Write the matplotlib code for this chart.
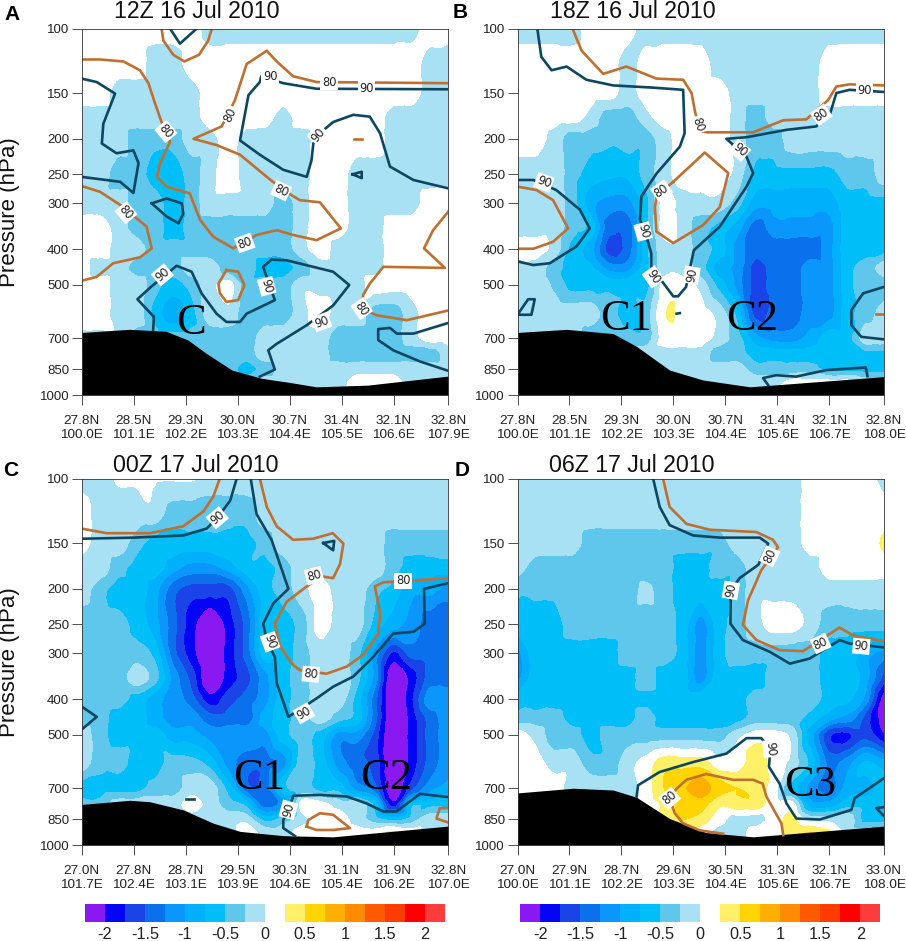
import numpy as np
import matplotlib
matplotlib.use("Agg")
import matplotlib.pyplot as plt
import matplotlib.tri as mtri

plt.rcParams['font.family'] = ['Liberation Sans', 'DejaVu Sans']

# ---------- coordinates ----------
PRESSURE = [100, 125, 150, 175, 200, 250, 300, 350, 400, 450, 500, 600, 700, 775, 850, 925, 1000]
SECTION = list(range(0, 101, 5))          # distance along the section, percent
YTICKS = [100, 150, 200, 250, 300, 400, 500, 700, 850, 1000]
XTICK_POS = [0, 14.18, 28.36, 42.55, 56.73, 70.9, 85.09, 100]

# ---------- tick labels ----------
A_TICKS = ["27.8N\n100.0E", "28.5N\n101.1E", "29.3N\n102.2E", "30.0N\n103.3E", "30.7N\n104.4E", "31.4N\n105.5E", "32.1N\n106.6E", "32.8N\n107.9E"]
B_TICKS = ["27.8N\n100.0E", "28.5N\n101.1E", "29.3N\n102.2E", "30.0N\n103.3E", "30.7N\n104.4E", "31.4N\n105.6E", "32.1N\n106.7E", "32.8N\n108.0E"]
C_TICKS = ["27.0N\n101.7E", "27.8N\n102.4E", "28.7N\n103.1E", "29.5N\n103.9E", "30.3N\n104.6E", "31.1N\n105.4E", "31.9N\n106.2E", "32.8N\n107.0E"]
D_TICKS = ["27.0N\n100.0E", "27.9N\n101.1E", "28.7N\n102.2E", "29.6N\n103.3E", "30.5N\n104.4E", "31.3N\n105.6E", "32.1N\n106.7E", "33.0N\n108.0E"]

# ---------- shaded field, one row per pressure level ----------
A_FIELD = [
 [.1,.1,.1,.1,.1,.1,.1,-.1,-.1,-.1,-.1,-.1,-.1,-.1,-.1,-.1,-.1,-.1,-.1,.1,.1],
 [.1,.1,.1,.1,-.1,-.1,.1,.1,.1,.1,.1,.1,.1,.1,.1,.1,.1,.1,.1,-.1,-.1],
 [.1,.1,-.1,-.1,-.1,-.1,-.1,.1,.1,.1,.1,.1,.1,.1,.1,.1,.1,.1,.1,-.1,-.1],
 [-.1,-.1,-.1,-.1,-.1,-.1,-.1,.1,.1,.1,.1,-.1,.1,.1,.1,.1,.1,-.1,-.1,-.1,-.1],
 [-.1,-.1,-.1,-.4,-.4,-.4,-.1,-.1,.1,-.1,-.1,-.1,-.1,.1,.1,.1,.1,-.1,-.1,-.1,-.1],
 [-.1,-.1,-.4,-.4,-.6,-.6,-.4,-.1,.1,-.1,-.1,-.1,-.1,.1,.1,-.1,-.1,-.1,-.1,-.1,-.1],
 [-.1,-.1,-.1,-.4,-.4,-.6,-.4,-.1,-.1,-.1,-.1,-.4,-.1,.1,.1,-.1,-.1,-.1,-.1,.1,.1],
 [.1,.1,-.1,-.4,-.4,-.6,-.4,-.4,-.4,-.4,-.4,-.4,-.1,.1,.1,-.1,-.1,.1,.1,.1,.1],
 [.1,.1,-.1,-.1,-.4,-.4,-.4,-.4,-.4,-.4,-.4,-.4,-.1,.1,-.1,-.1,-.1,.1,.1,.1,.1],
 [.1,-.1,-.1,-.4,-.4,-.4,-.1,-.1,-.4,-.4,-.6,-.6,-.4,-.1,-.1,-.1,-.1,.1,.1,.1,.1],
 [.1,.1,-.1,-.1,-.4,-.6,-.4,-.1,.1,-.4,-.4,-.4,-.1,-.1,-.1,-.1,.1,.1,.1,.1,.1],
 [.1,.1,-.1,-.1,-.6,-.9,-.6,-.1,-.1,-.4,-.4,-.4,-.1,.1,-.1,-.1,-.4,-.4,-.1,.1,.1],
 [-.1,-.1,-.1,-.4,-.4,-.4,-.4,-.4,-.4,-.4,-.1,-.1,-.1,-.1,-.4,-.4,-.4,-.4,-.1,.1,.1],
 [-.4,-.4,-.4,-.4,-.4,-.4,-.4,-.4,-.4,-.4,-.1,-.1,-.1,-.1,-.4,-.4,-.4,-.4,-.4,-.4,-.1],
 [-.4,-.4,-.4,-.4,-.4,-.4,-.4,-.4,-.4,-.6,-.4,-.1,-.1,-.1,-.1,-.1,-.1,-.1,-.1,-.1,-.1],
 [-.4,-.4,-.4,-.4,-.4,-.4,-.4,-.4,-.4,-.4,-.1,-.1,-.1,-.1,-.1,.1,.1,.1,-.1,-.1,-.1],
 [-.4,-.4,-.4,-.4,-.4,-.4,-.4,-.4,-.4,-.4,-.1,-.1,-.1,-.1,-.1,.1,.1,.1,-.1,-.1,-.1],
]
B_FIELD = [
 [-.1,-.1,-.1,-.1,.1,.1,.1,-.1,-.1,-.1,-.1,-.1,-.1,-.1,-.1,-.1,-.1,-.1,-.1,-.1,-.1],
 [.1,.1,.1,.1,.1,.1,-.1,.1,.1,.1,.1,-.1,-.1,-.1,-.1,-.1,-.1,.1,.1,.1,.1],
 [.1,.1,.1,.1,.1,.1,-.1,.1,.1,.1,.1,.1,-.1,-.1,-.1,-.1,-.1,.1,.1,.1,.1],
 [.1,.1,.1,.1,-.1,-.4,-.4,-.1,.1,.1,.1,.1,-.1,-.4,-.1,-.1,-.1,-.1,-.1,-.1,-.1],
 [.1,.1,-.1,-.4,-.4,-.45,-.4,-.4,-.1,.1,.1,.1,-.1,-.4,-.4,-.1,-.1,-.1,-.1,-.1,-.1],
 [-.1,-.1,-.1,-.4,-.6,-.7,-.7,-.4,-.1,.1,.1,.1,-.1,-.6,-.6,-.6,-.6,-.6,-.4,-.4,-.1],
 [-.1,-.1,-.1,-.4,-.9,-1.1,-1.1,-.6,.1,-.1,-.1,-.1,-.4,-.9,-.9,-.9,-.9,-.9,-.6,-.6,-.6],
 [-.1,-.1,-.1,-.4,-.6,-1.4,-1.4,-.6,.1,-.1,-.4,-.6,-.9,-1.4,-1.1,-1.1,-1.1,-1.1,-.6,-.6,-.6],
 [.1,.1,-.1,-.6,-.9,-1.6,-1.4,-.6,-.1,-.1,-.4,-.6,-1.1,-1.4,-1.4,-1.4,-1.4,-1.1,-.6,-.6,-.6],
 [-.1,-.1,-.4,-.6,-.7,-1.1,-1.1,-.6,-.1,-.1,-.4,-.9,-1.1,-1.6,-1.4,-1.4,-1.1,-1.1,-.6,-.4,-.1],
 [-.1,-.1,-.3,-.6,-.6,-.6,-.6,-.6,.1,.1,-.1,-.6,-1.1,-1.6,-1.4,-1.4,-1.1,-1.1,-.6,-.4,-.4],
 [-.1,-.1,-.1,-.1,-.1,-.4,-.6,-.4,.22,.2,.1,-.1,-.6,-1.6,-1.4,-1.4,-1.1,-1.1,-.6,-.4,-.1],
 [-.1,-.1,-.1,-.1,-.4,-.4,-.4,-.4,.1,.1,.1,-.1,-.4,-.9,-1.1,-1.1,-.9,-.6,-.6,-.1,-.1],
 [-.1,-.1,-.1,-.1,-.1,-.1,-.1,-.1,-.1,-.1,-.1,-.4,-.4,-.6,-.6,-.6,-.6,-.6,-.6,-.6,-.6],
 [-.1,-.1,-.1,-.1,-.1,-.1,-.1,-.1,-.1,-.1,-.1,-.1,-.1,-.4,-.4,-.4,-.4,-.6,-.6,-.6,-.6],
 [-.1,-.1,-.1,-.1,-.1,-.1,-.1,-.1,-.1,-.1,-.1,-.1,-.1,-.1,-.1,.1,.1,.1,.1,-.1,-.1],
 [-.1,-.1,-.1,-.1,-.1,-.1,-.1,-.1,-.1,-.1,-.1,-.1,-.1,-.1,-.1,.1,.1,.1,.1,-.1,-.1],
]
C_FIELD = [
 [-.1,-.1,.03,.03,.03,.03,.03,-.1,-.1,-.1,-.1,-.1,-.1,-.1,-.1,-.1,-.1,-.1,-.1,-.1,-.1],
 [.1,-.1,-.1,-.1,-.1,-.4,-.4,-.4,-.4,-.4,-.1,-.1,-.1,-.1,-.1,-.1,-.1,-.1,-.1,-.1,-.1],
 [.1,-.1,-.1,-.4,-.6,-.6,-.6,-.6,-.6,-.6,-.4,-.1,-.1,-.1,-.1,-.1,-.1,-.4,-.4,-.4,-.4],
 [-.1,-.1,-.4,-.6,-.6,-.9,-1.1,-1.1,-.9,-.6,-.6,-.4,-.1,-.1,-.1,-.1,-.1,-.4,-.6,-.6,-.6],
 [-.1,-.4,-.6,-.6,-.9,-1.4,-1.6,-1.6,-1.6,-1.1,-.6,-.4,-.1,.1,-.1,-.1,-.4,-.6,-.9,-.9,-1.1],
 [-.4,-.4,-.4,-.6,-.9,-1.4,-1.9,-2.3,-1.9,-1.4,-.6,-.6,-.4,.1,-.1,-.1,-.6,-.9,-1.1,-1.4,-1.4],
 [-.4,-.4,-.4,-.4,-.6,-1.4,-1.9,-2.3,-1.9,-1.4,-.6,-.6,-.4,-.1,-.1,-.4,-1.1,-1.8,-1.4,-1.4,-1.4],
 [-.4,-.4,-.4,-.1,-.4,-1.1,-1.6,-2.3,-1.9,-1.6,-1.1,-.6,-.4,-.1,-.1,-.4,-1.1,-2.3,-1.9,-1.4,-1.4],
 [-.4,-.4,-.4,-.6,-.9,-1.1,-1.4,-1.9,-1.6,-1.4,-1.1,-.6,-.4,-.1,-.1,-.6,-1.4,-2.3,-1.8,-1.1,-1.1],
 [-.4,-.4,-.6,-.6,-.9,-1.1,-1.1,-1.4,-1.4,-1.4,-.9,-.6,-.4,-.1,-.4,-.6,-1.4,-2.3,-1.9,-1.4,-1.1],
 [-.1,-.4,-.6,-.6,-.6,-.9,-.9,-1.1,-1.1,-1.1,-1.1,-.6,-.4,-.6,-1.1,-1.1,-1.6,-2.3,-1.9,-1.4,-1.1],
 [-.1,-.4,-.4,-.6,-.6,-.4,-.4,-.6,-1.1,-1.4,-1.4,-1.1,-.4,-.6,-1.1,-1.4,-1.6,-2.3,-1.9,-1.4,-1.1],
 [-.6,-.6,-.6,-.6,-.4,-.4,-.1,-.1,-.6,-1.4,-1.4,-.6,-.4,-.6,-.6,-1.1,-1.4,-2.3,-1.6,-1.1,-.9],
 [-.4,-.4,-.1,-.1,-.1,-.1,.1,-.1,-.4,-.6,-1.4,-1.1,.1,.1,-.1,-.1,-.6,-1.9,-.6,-.6,-.6],
 [-.1,-.1,-.1,-.1,-.1,-.1,-.1,-.1,-.1,-.1,-.6,-.4,-.1,.1,.1,-.1,-.4,-.6,-.4,-.1,-.1],
 [-.1,-.1,-.1,-.1,-.1,-.1,-.1,-.1,-.1,.1,-.1,-.1,.1,.1,.1,.1,.1,.3,.1,-.1,-.1],
 [-.1,-.1,-.1,-.1,-.1,-.1,-.1,-.1,-.1,.1,-.1,-.1,.1,.1,.1,.1,.1,.3,.1,-.1,-.1],
]
D_FIELD = [
 [-.1,-.1,-.1,-.1,-.1,-.1,-.1,-.1,-.1,-.1,-.1,-.1,-.1,-.1,-.1,-.1,.1,.1,.1,.1,-.1],
 [-.1,-.1,-.1,-.1,-.1,-.1,-.1,-.1,-.1,-.1,-.1,-.1,-.1,-.1,-.1,-.1,.1,.1,.1,.1,.1],
 [-.1,-.1,-.1,-.1,-.4,-.4,-.4,-.4,-.4,-.4,-.4,-.4,-.1,-.1,-.1,-.1,.1,.1,.1,.1,.3],
 [-.1,-.4,-.4,-.4,-.4,-.4,-.4,-.4,-.4,-.6,-.6,-.4,-.4,-.1,-.1,-.1,-.1,.1,.1,.1,.1],
 [-.45,-.45,-.45,-.4,-.4,-.4,-.4,-.2,-.4,-.6,-.6,-.6,-.4,-.1,-.1,-.1,-.1,-.1,-.1,-.1,-.1],
 [-.6,-.6,-.6,-.4,-.4,-.4,-.4,-.4,-.4,-.6,-1.1,-.6,-.4,-.1,.1,.1,-.1,-.4,-.4,-.4,-.4],
 [-1.1,-.6,-.6,-.6,-.6,-.6,-.4,-.4,-.4,-.6,-1.1,-.6,-.4,-.4,-.4,-.4,-.4,-.6,-.6,-.9,-1.1],
 [-1.1,-.6,-.6,-.6,-.6,-.6,-.6,-.4,-.6,-.6,-1.1,-.6,-.6,-.6,-.4,-.4,-.4,-.6,-.6,-.9,-1.6],
 [-.6,-.6,-.6,-.6,-.6,-.6,-.6,-.55,-.6,-.6,-.6,-.6,-.6,-.4,-.4,-.4,-.4,-.6,-.7,-1.1,-2.2],
 [-.4,-.4,-.4,-.6,-.6,-.6,-.6,-.4,-.6,-.6,-.6,-.6,-.6,-.4,-.4,-.4,-.6,-.9,-1.1,-1.6,-2.2],
 [.1,-.1,-.4,-.4,-.6,-.4,-.4,-.4,-.4,-.4,-.4,-.4,-.1,.1,.1,-.1,-.9,-1.7,-1.8,-1.6,-2],
 [.1,.1,-.1,-.1,-.4,-.4,-.1,.1,.4,.4,.4,.1,.1,.4,.1,-.1,-.6,-1.3,-1.1,-.7,-.9],
 [.1,.1,.1,-.1,-.1,-.1,-.1,.1,.5,.7,.9,.6,.5,.4,.1,-.6,-1.1,-1.4,-.9,-.9,-.6],
 [.1,.1,.1,-.1,-.1,-.1,-.1,.1,.3,.6,.6,.3,.4,.4,.1,.1,-.9,-.9,-.6,-.6,-.6],
 [.1,.1,.1,.1,.1,.1,.1,.1,.3,.5,.4,.1,-.1,-.1,.1,.3,-.1,-.1,-.1,-.6,-.6],
 [.1,.1,.1,.1,.1,.1,.1,.1,.1,.4,.1,-.1,-.1,.1,.1,.4,.5,.3,-.1,-.1,-.1],
 [.1,.1,.1,.1,.1,.1,.1,.1,.1,.4,.1,-.1,-.1,.1,.1,.4,.5,.3,-.1,-.1,-.1],
]

# ---------- terrain surface pressure ----------
A_TERRAIN = ([0, 13, 23, 29, 34, 41, 49, 57, 64, 78, 100], [675, 662, 670, 708, 770, 855, 900, 925, 950, 940, 888])
B_TERRAIN = ([0, 13.4, 26.1, 32.5, 41.5, 50.6, 63.4, 100], [675, 662, 680, 737, 855, 910, 950, 891])
C_TERRAIN = ([0, 13.2, 18.6, 27.7, 35.9, 43.2, 55, 68.6, 100], [775, 755, 762, 802, 872, 918, 943, 950, 888])
D_TERRAIN = ([0, 15.2, 26.1, 32.5, 41.5, 51.5, 64.3, 100], [721, 700, 708, 741, 847, 925, 950, 888])

# ---------- relative humidity isolines: (section, pressure) ----------
A_RH80 = [
 ([21.8, 22.3, 25, 28, 32, 34.5, 35.5], [100, 108, 118, 123, 118, 108, 100]),
 ([0, 5, 11.4, 15.9, 18.2, 20, 21.8, 24.1, 21.4, 20.5, 23.2, 29.5, 32.3, 35.9, 41.4, 47.7, 53.2, 57.7, 64.1, 70.7, 65, 59.5, 55, 50.5, 43.2, 36.8, 30.5, 38.2, 41.8, 45, 50.5, 53.2, 57.7, 64.1, 100],
  [121.5, 121.5, 123, 130, 141, 160, 180, 204, 233, 254, 270, 282, 333, 370, 398, 366, 355, 366, 378, 351, 298, 294, 276, 254, 221, 208, 200, 185, 157, 125, 115, 123, 135, 140, 141]),
 ([0, 5, 10.5, 17.7, 19.1, 15.9, 8.6, 4.1, 0], [269, 279, 303, 347, 398, 421, 437, 476, 488]),
 ([39.5, 42.7, 44.4, 42.7, 39.5, 37.7, 37.3, 39.5], [456, 461, 501, 551, 557, 528, 497, 456]),
 ([100, 95.9, 93.4, 99.1, 82.3, 78.6, 76.8, 76.4, 80.5, 88.7, 100], [316, 355, 398, 450, 447, 497, 533, 581, 606, 625, 588]),
 ([74.4, 76.4], [200, 200]),
]
A_RH90 = [
 ([24.1, 26.8, 31.4], [100, 110, 100]),
 ([0, 4.1, 9.1, 5.9, 5.5, 9.5, 14.1, 15.5, 14.1, 10.5, 0], [137, 140, 150.5, 182, 206, 219, 215, 233, 281, 262, 254]),
 ([19.1, 23.2, 27.3, 27.7, 26.4, 23.2, 19.1], [300, 291, 300, 320, 340, 326, 300]),
 ([100, 64, 55, 49, 48.6, 45.5, 43.2, 48.6, 55, 61.4, 62.7, 63.2, 65, 68.6, 74.1, 78.6, 81.4, 84.1, 90.5, 100],
  [146.5, 146, 141, 135, 140, 152, 202, 221, 243, 254, 229, 206, 193, 180, 172, 174, 193, 238, 259, 273]),
 ([73.9, 76.4, 76.4, 73.9], [250, 246, 256, 250]),
 ([19.5, 19.7, 15.2, 19.1, 25.9, 30, 32.7, 36.8, 39.5, 43.2, 45, 52.7, 49.5, 51.8, 55.9, 68.6, 73, 68.6, 61.4, 53.2, 50.9, 52.7, 48.6],
  [664, 612, 548, 505, 444, 461, 528, 600, 632, 632, 600, 551, 447, 427, 429, 461, 501, 570, 645, 725, 755, 852, 891]),
 ([100, 90.5, 86, 84.1, 80.9, 80.9, 85, 92.3, 100], [636, 680, 680, 656, 661, 708, 755, 810, 859]),
]
B_RH80 = [
 ([15, 17.5, 23.4, 29.7, 37.9, 45.2, 47.5, 48.5, 50.2, 52, 64.3, 72.5, 78.8, 84.7, 87, 90.6, 100],
  [100, 115, 133, 127, 137, 138, 150, 170, 191, 192, 192, 178, 177, 157, 144, 142, 143]),
 ([42.5, 51.1, 57.5, 55.2, 50.6, 42.5, 37.9, 37.5, 38, 42.5], [262, 218, 248, 307, 344, 385, 358, 307, 286, 262]),
 ([0, 5.2, 9.7, 13.8, 9.7, 4.3, 0], [270, 276, 294, 351, 382, 399, 399]),
 ([97.9, 100], [600, 600]),
]
B_RH90 = [
 ([5.4, 6.5, 9.3, 13.4, 18.8, 26.1, 37, 45.2, 45.6, 44.3, 37.9, 33.8, 33.4, 34.7, 36.5, 36.5, 42.5, 43.8, 46, 48.1, 55.2, 62.5, 64.3, 62.5, 57, 62.5, 73.4, 81.5, 85.2, 87, 90.6, 100],
  [100, 119.5, 130, 127, 138, 143, 145, 147, 193, 210, 249, 287, 333, 355, 411, 447, 538, 538, 507, 403, 347, 270, 248, 224, 200, 198, 189, 185, 172, 150, 147, 149]),
 ([0, 4.3, 10.6, 17, 19.7, 16.1, 8.8, 4.3, 0], [259, 259, 276, 312, 351, 393, 437, 442, 432]),
 ([0, 3.8, 4.7, 2.9, 0], [604, 604, 548, 548, 604]),
 ([43.4, 44.3], [600, 598]),
 ([100, 94.3, 91.1, 91.1, 93.8, 100], [507, 528, 586, 645, 694, 705]),
 ([68.4, 67, 70.6, 76, 84.3, 95, 95.5], [940, 899, 883, 891, 855, 841, 888]),
]
C_RH80 = [
 ([0, 6.8, 18.6, 27.7, 33.2, 35.9, 37.7], [137, 141, 141, 135, 123, 112, 100]),
 ([48.6, 50.5, 53.2, 57.7, 63.2, 68.5, 71.4, 70.5, 68.6, 65.5, 61.4, 55.9, 52.7, 54.1, 57.7, 59.5, 66.8, 72.3, 76.8, 80.9, 81.4, 80, 82.3, 100],
  [100, 119.5, 135, 147, 146, 141, 150.5, 171, 187, 185, 197, 217, 249, 287, 323, 333, 341, 326, 303, 265, 233, 197, 192, 187]),
 ([61.4, 61.8, 65, 68.6, 73.2, 68.6, 64.1, 61.4], [891, 855, 819, 827, 899, 910, 910, 891]),
 ([100, 97.7, 96.8, 100], [793, 793, 847, 868]),
]
C_RH90 = [
 ([0, 14.1, 27.7, 34.1, 37, 40.5, 42.3], [146, 145, 143, 137, 128, 115, 100]),
 ([46.1, 47.7, 51.8, 56.4, 52.3, 49.5, 50.5, 52.7, 53.2, 56.4, 64.1, 68.6, 74.1, 79.5, 85, 90.5, 93.6, 93.4, 100],
  [100, 125, 147, 200, 219, 249, 276, 307, 361, 447, 398, 370, 347, 307, 265, 262, 249, 200, 193]),
 ([0, 4.1, 0], [419, 447, 484]),
 ([65.9, 68.9, 68.6, 65.9], [150, 148, 157, 150]),
 ([28.5, 30.6], [750, 750]),
 ([58.2, 55, 55, 56.4, 57.7, 65, 72.3, 77.7, 82.3, 85.9, 92.3, 100], [945, 899, 855, 800, 734, 730, 737, 770, 810, 810, 725, 740]),
]
D_RH80 = [
 ([39.7, 41.5, 46.1, 52.5, 65.2, 69.7, 71.1, 66.5, 62.9, 61.5, 65.2, 71.5, 77.9, 87.9, 91.5, 100],
  [100, 119.5, 133, 138, 140, 147, 154, 178, 215, 251, 276, 294, 296, 255, 268, 278]),
 ([72.5, 72, 67.9, 66.9, 64.3, 58.8, 51.5, 46.1, 43.4, 41.5, 42.9, 45.2, 49.7, 56.1],
  [940, 873, 737, 680, 664, 664, 640, 664, 702, 745, 819, 873, 912, 932]),
]
D_RH90 = [
 ([37, 38.8, 41.5, 47.9, 55.2, 66.1, 68.4, 65.7, 60.6, 58.2, 58.1, 61.5, 68.8, 74.3, 79.7, 87.9, 90.6, 100],
  [100, 119.5, 134, 143, 145, 145, 150.5, 172, 187, 202, 249, 276, 297, 320, 310, 276, 282, 289]),
 ([32.5, 32.9, 38.8, 47.9, 57, 62.5, 66.5, 69, 68.6, 71.5, 73.4, 76.1, 82.5, 91.1, 92, 100],
  [737, 687, 632, 594, 563, 511, 511, 546, 612, 680, 770, 847, 852, 802, 745, 657]),
 ([100, 97.9, 100], [788, 793, 834]),
]

# ---------- isoline labels: (text, section, pressure, rotation) ----------
A_LABELS = [("80", 23, 191, -50), ("80", 40.5, 172, 65), ("80", 54.4, 277, -25), ("80", 44.5, 385, 20),
            ("80", 12.1, 318, -50), ("80", 67.5, 140, 0), ("90", 51.4, 135, 0), ("90", 77.7, 146, 0),
            ("90", 64.5, 195, 50), ("90", 22, 470, 40), ("90", 50.5, 505, -75), ("90", 65.5, 632, 20), ("80", 76.4, 581, -55)]
B_LABELS = [("90", 7.2, 263, -20), ("80", 49.3, 183, -70), ("80", 82.9, 172, 35), ("90", 60.6, 215, -40),
            ("90", 94.7, 148, 0), ("80", 39.3, 277, 35), ("90", 34.3, 358, -75), ("90", 37, 476, -55), ("90", 47.5, 471, 80)]
C_LABELS = [("90", 37, 128, 40), ("80", 63.4, 184, 15), ("90", 51.4, 279, -70), ("80", 62.5, 342, -5),
            ("80", 87.7, 190, 0), ("90", 60.6, 437, 30), ("90", 56.4, 802, 75)]
D_LABELS = [("80", 68.8, 163, 65), ("90", 58.2, 202, 80), ("80", 82.7, 282, 25), ("90", 93.8, 287, -5),
            ("90", 69.1, 546, -85), ("80", 41.5, 745, 40)]

# ---------- feature tags ----------
A_TAGS = [("C", 29.7, 636)]
B_TAGS = [("C1", 29.5, 620), ("C2", 64, 620)]
C_TAGS = [("C1", 48.4, 655), ("C2", 83, 655)]
D_TAGS = [("C3", 79.9, 685)]

# ---------- colour scale ----------
BLUE_EDGES = [-2.25, -2, -1.75, -1.5, -1.25, -1, -.75, -.5, -.25, 0]
WARM_EDGES = [.25, .5, .75, 1, 1.25, 1.5, 1.75, 2, 2.25]
BLUES = ['#8a18f0', '#0505f5', '#1a44e8', '#0a70ec', '#0a96fa', '#00b0fa', '#00bff8', '#5fc6ec', '#a8e0f4']
WARMS = ['#fff068', '#ffd400', '#ffaf00', '#ff8c00', '#ff5a00', '#ff3c00', '#ff0000', '#ff3c3c']
CB_TICKS = [-2, -1.5, -1, -.5, 0, .5, 1, 1.5, 2]
CB_LABELS = ['-2', '-1.5', '-1', '-0.5', '0', '0.5', '1', '1.5', '2']

ORANGE = '#bf6f30'
DARK = '#0d4661'
W, H = 906, 941

fig = plt.figure(figsize=(W / 100, H / 100), dpi=100)
levels = [-100] + BLUE_EDGES[1:] + WARM_EDGES[:-1] + [100]
colors = BLUES + ['#ffffff'] + WARMS


def shade(ax, field):
    # matplotlib's own mesh refiner draws smooth class boundaries through the values
    sx, lp = np.meshgrid(SECTION, 100 * np.log10(PRESSURE))
    tri = mtri.Triangulation(sx.ravel(), lp.ravel())
    z = np.array(field, dtype=float).ravel()
    interp = mtri.CubicTriInterpolator(tri, z, kind='geom')
    tri_fine, z_fine = mtri.UniformTriRefiner(tri).refine_field(z, triinterpolator=interp, subdiv=3)
    shown = mtri.Triangulation(tri_fine.x, 10 ** (tri_fine.y / 100), tri_fine.triangles)
    ax.tricontourf(shown, z_fine, levels=levels, colors=colors, zorder=1)


def panel(left, top, field, terrain, rh80, rh90, labels, tags, ticks, title, letter, letter_xy, title_xy, ylabel):
    ax = fig.add_axes([left / W, 1 - (top + 366.5) / H, 366.5 / W, 366.5 / H])
    shade(ax, field)
    ax.fill_between(terrain[0], terrain[1], 1000, color='black', lw=0, zorder=2)
    for xs, ps in rh80:
        ax.plot(xs, ps, color=ORANGE, lw=1.9, zorder=3, solid_joinstyle='round')
    for xs, ps in rh90:
        ax.plot(xs, ps, color=DARK, lw=1.9, zorder=3, solid_joinstyle='round')
    for s, x, p, r in labels:
        ax.text(x, p, s, rotation=r, rotation_mode='anchor', ha='center', va='center', zorder=4,
                fontsize=8.3, family=['DejaVu Sans'], color='#222222',
                bbox=dict(boxstyle='square,pad=0.12', fc='white', ec='none'))
    for s, x, p in tags:
        ax.text(x, p, s, ha='center', va='center', zorder=5, fontsize=32, family=['Liberation Serif'], color='black')
    ax.set_yscale('log')
    ax.set_xlim(0, 100)
    ax.set_ylim(1000, 100)
    ax.set_yticks(YTICKS)
    ax.set_yticklabels([str(t) for t in YTICKS], fontsize=9.5, color='#222222')
    ax.minorticks_off()
    ax.set_xticks(XTICK_POS)
    ax.set_xticklabels(ticks, fontsize=9.7, color='#222222', linespacing=1.2)
    ax.tick_params(axis='both', length=7, width=0.6, color='#333333', direction='out')
    ax.tick_params(axis='x', pad=7.5)
    ax.tick_params(axis='y', pad=2)
    for sp in ax.spines.values():
        sp.set_linewidth(0.6)
        sp.set_color('#333333')
        sp.set_zorder(6)
    fig.text(title_xy[0] / W, 1 - title_xy[1] / H, title, fontsize=16.7, ha='center', va='center', color='#111111')
    fig.text(letter_xy[0] / W, 1 - letter_xy[1] / H, letter, fontsize=15, fontweight='bold', ha='center', va='center', color='black')
    if ylabel:
        fig.text(10 / W, 1 - (top + 183.5) / H, 'Pressure (hPa)', rotation=90, fontsize=16, ha='center', va='center', color='#111111')
    return ax


panel(81.7, 28.5, A_FIELD, A_TERRAIN, A_RH80, A_RH90, A_LABELS, A_TAGS, A_TICKS, '12Z 16 Jul 2010', 'A', (12, 15), (197, 12), True)
panel(517.5, 28.5, B_FIELD, B_TERRAIN, B_RH80, B_RH90, B_LABELS, B_TAGS, B_TICKS, '18Z 16 Jul 2010', 'B', (460, 12), (633, 12), False)
panel(81.7, 478.5, C_FIELD, C_TERRAIN, C_RH80, C_RH90, C_LABELS, C_TAGS, C_TICKS, '00Z 17 Jul 2010', 'C', (11, 471), (196, 465), True)
panel(517.5, 478.5, D_FIELD, D_TERRAIN, D_RH80, D_RH90, D_LABELS, D_TAGS, D_TICKS, '06Z 17 Jul 2010', 'D', (462, 471), (632, 465), False)


def colorbar(left):
    ax = fig.add_axes([left / W, 1 - 921.7 / H, 360 / W, 17.7 / H])
    ax.bar(BLUE_EDGES[:-1], np.diff(BLUE_EDGES), width=np.diff(BLUE_EDGES), align='edge', bottom=0, color=BLUES)
    ax.bar(WARM_EDGES[:-1], np.diff(WARM_EDGES), width=np.diff(WARM_EDGES), align='edge', bottom=0, color=WARMS)
    ax.set_xlim(BLUE_EDGES[0], WARM_EDGES[-1])
    ax.set_ylim(0, 0.25)
    ax.set_yticks([])
    ax.set_xticks(CB_TICKS)
    ax.set_xticklabels(CB_LABELS, fontsize=11.7, color='#222222')
    ax.tick_params(axis='x', length=0, pad=3.5)
    for sp in ax.spines.values():
        sp.set_visible(False)


colorbar(85)
colorbar(520.3)
fig.savefig('out.png', dpi=100)
